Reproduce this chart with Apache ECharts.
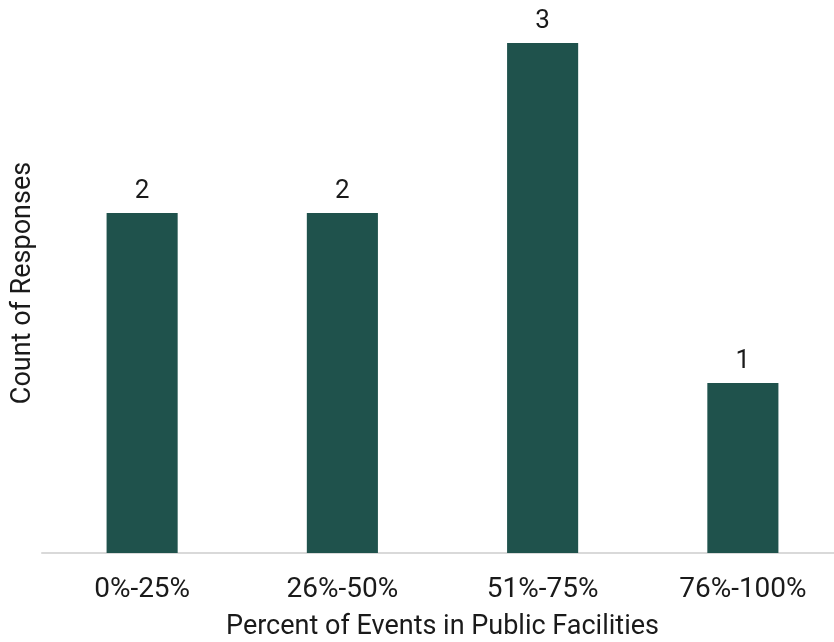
<!DOCTYPE html>
<html>
<head>
<meta charset="utf-8">
<script src="https://cdn.jsdelivr.net/npm/echarts@6/dist/echarts.min.js"></script>
<style>
  html, body { margin: 0; padding: 0; background: #ffffff; }
  #chart { width: 834px; height: 642px; }
</style>
</head>
<body>
<div id="chart"></div>
<script>
// Share-of-events buckets and how many responses fell in each
const categories = ['0%-25%', '26%-50%', '51%-75%', '76%-100%'];
const counts = [2, 2, 3, 1];

const xTitle = 'Percent of Events in Public Facilities';
const yTitle = 'Count of Responses';

const FONT = 'Roboto, "Liberation Sans", Arial, sans-serif';
const BAR_COLOR = '#1F524C';
const TEXT = '#1a1a1a';

const chart = echarts.init(document.getElementById('chart'), null, { renderer: 'canvas' });

chart.setOption({
  animation: false,
  backgroundColor: '#ffffff',
  grid: { left: 42, top: 43, right: -9, bottom: 89, containLabel: false, outerBoundsMode: 'none' },
  xAxis: {
    type: 'category',
    data: categories,
    name: xTitle,
    nameLocation: 'middle',
    nameGap: 61,
    nameTextStyle: { fontFamily: FONT, fontSize: 27, color: TEXT },
    axisLine: { show: true, lineStyle: { color: '#d9d9d9', width: 2 } },
    axisTick: { show: false },
    axisLabel: { fontFamily: FONT, fontSize: 28, color: TEXT, margin: 23 }
  },
  yAxis: {
    type: 'value',
    min: 0,
    max: 3,
    interval: 1,
    name: yTitle,
    nameLocation: 'middle',
    nameGap: 5,
    nameTextStyle: { fontFamily: FONT, fontSize: 27, color: TEXT, padding: [0, 0, 0, 30] },
    axisLine: { show: false },
    axisTick: { show: false },
    axisLabel: { show: false },
    splitLine: { show: false }
  },
  series: [{
    type: 'bar',
    data: counts,
    barWidth: '35.5%',
    itemStyle: { color: BAR_COLOR },
    label: {
      show: true,
      position: 'top',
      distance: 9,
      fontFamily: FONT,
      fontSize: 26,
      color: TEXT
    }
  }]
});
</script>
</body>
</html>
